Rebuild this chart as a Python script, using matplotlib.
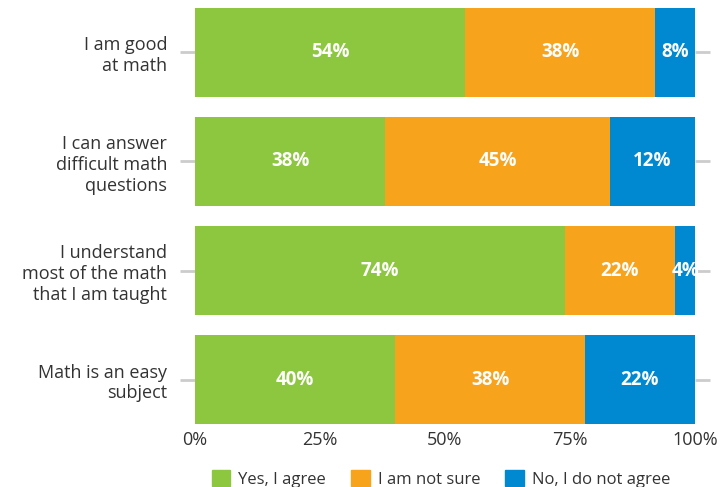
import matplotlib
matplotlib.use("Agg")
import matplotlib.pyplot as plt
from matplotlib.patches import Patch

plt.rcParams['font.family'] = ['Open Sans', 'DejaVu Sans']

categories = ["I am good\nat math",
              "I can answer\ndifficult math\nquestions",
              "I understand\nmost of the math\nthat I am taught",
              "Math is an easy\nsubject"]
series = ["Yes, I agree", "I am not sure", "No, I do not agree"]
# segment widths as drawn in the picture
agree = [54, 38, 74, 40]
not_sure = [38, 45, 22, 38]
disagree = [8, 17, 4, 22]
# labels printed on the segments
agree_lbl = ["54%", "38%", "74%", "40%"]
not_sure_lbl = ["38%", "45%", "22%", "38%"]
disagree_lbl = ["8%", "12%", "4%", "22%"]
xticks = [0, 25, 50, 75, 100]

colors = ["#8DC63F", "#F7A31C", "#0088D1"]

fig = plt.figure(figsize=(7.22, 4.87), dpi=100)
ax = fig.add_axes([195 / 722, (487 - 424) / 487, 500 / 722, 416 / 487])

ypos = list(range(len(categories)))
left = [0] * len(categories)
for vals, lbls, c in zip([agree, not_sure, disagree],
                         [agree_lbl, not_sure_lbl, disagree_lbl], colors):
    bars = ax.barh(ypos, vals, left=left, height=0.816, color=c, zorder=2)
    for b, l in zip(bars, lbls):
        ax.text(b.get_x() + b.get_width() / 2, b.get_y() + b.get_height() / 2, l,
                ha='center', va='center', color='white', fontsize=13.5,
                fontweight='bold', zorder=3)
    left = [a + v for a, v in zip(left, vals)]

ax.set_ylim(3.408, -0.408)
ax.set_xlim(0, 100)
ax.set_yticks(ypos)
ax.set_yticklabels(categories, fontsize=13, color='#333333', linespacing=1.2)
ax.set_xticks(xticks)
ax.set_xticklabels([f"{t}%" for t in xticks], fontsize=13, color='#333333')
ax.tick_params(axis='x', length=0, pad=5)
ax.tick_params(axis='y', length=11, width=2, color='#cccccc', pad=9,
               right=True)
for s in ax.spines.values():
    s.set_visible(False)

handles = [Patch(color=c, label=s) for c, s in zip(colors, series)]
fig.legend(handles=handles, loc='center', bbox_to_anchor=(0.611, 0.017),
           ncol=3, frameon=False, fontsize=12, handlelength=1.1,
           handleheight=1.1, handletextpad=0.5, columnspacing=1.5,
           borderpad=0, labelcolor='#333333')

fig.savefig("out.png", dpi=100)
